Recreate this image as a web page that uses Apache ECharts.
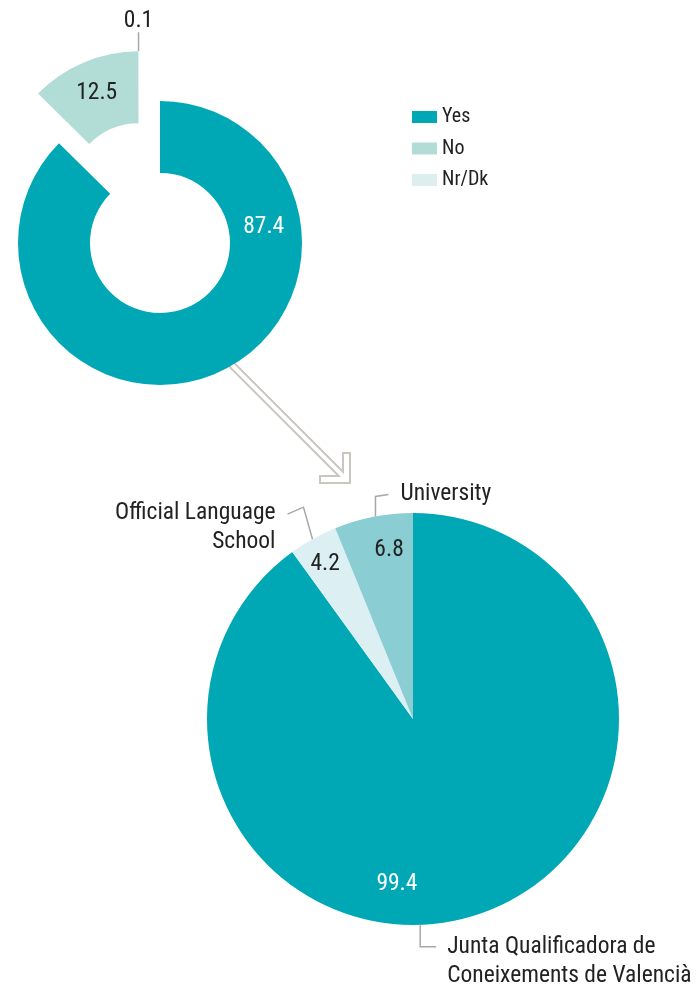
<!DOCTYPE html>
<html>
<head>
<meta charset="utf-8">
<script src="https://cdn.jsdelivr.net/npm/echarts@6/dist/echarts.min.js"></script>
<style>
html,body{margin:0;padding:0;background:#fff;}
#chart{width:697px;height:994px;}
</style>
</head>
<body>
<div id="chart"></div>
<script>
// ---- data ----
const donutNames = ['Yes', 'No', 'Nr/Dk'];
const donutValues = [87.4, 12.5, 0.1];
const pieNames = ['Junta Qualificadora de\nConeixements de Valencià', 'Official Language\nSchool', 'University'];
const pieValues = [99.4, 4.2, 6.8];

// ---- styles / layout ----
const FONT = 'Roboto';
const FSTYLE = 'condensed';
const FS = 23.5;
const TXT = '#222';
const donutColors = ['#00A8B5', '#B2DDD6', '#DCEEED'];
const pieColors = ['#00A8B5', '#DCEFF2', '#8ACED4'];
const LINE = {color: '#A8A8A8', width: 1.5};
const C1 = [160, 243], R1 = [70, 142];
const C2 = [413, 719], R2 = 206;
const EXPLODE = 54;
const rad = d => d * Math.PI / 180;
const polar = (c, r, a) => [c[0] + r * Math.sin(rad(a)), c[1] - r * Math.cos(rad(a))];

const total1 = donutValues.reduce((a, b) => a + b, 0);
const yesAngle = donutValues[0] / total1 * 360;
const noBis = yesAngle + donutValues[1] / total1 * 180;
const C1b = polar(C1, EXPLODE, noBis);

const chart = echarts.init(document.getElementById('chart'), null, {renderer: 'canvas'});

// hollow arrow pointing down-right
function arrowPoints() {
  const tip = [350, 483], start = 215, w = 6, t = 7, La = 30, th = rad(45);
  const a = La / Math.SQRT2;
  const k = -t * Math.SQRT2 - w / 2;
  const local = [
    [0, 0], [-a, -a], [-a - t / Math.SQRT2, -a + t / Math.SQRT2], [k, -w / 2],
    [-start, -w / 2], [-start, w / 2], [k, w / 2],
    [-a - t / Math.SQRT2, a - t / Math.SQRT2], [-a, a]
  ];
  return local.map(([x, y]) => [tip[0] + x * Math.cos(th) - y * Math.sin(th), tip[1] + x * Math.sin(th) + y * Math.cos(th)]);
}

const outerSpec = [
  {angle: 178, seg: [[0, 22], [16, 0]], dx: 11, dy: 15, align: 'left'},
  {angle: -29.2, seg: [[-9, -32], [-16, 7]], dx: -12, dy: 13, align: 'right'},
  {angle: -10.5, seg: [[0, -20], [13, -2]], dx: 12, dy: 0, align: 'left'}
];
const innerSpec = [
  {angle: 185.6, r: 165},
  {angle: -29.4, r: 179},
  {angle: -8.0, r: 172}
];

const txt = (extra) => Object.assign({fontFamily: FONT, fontStyle: FSTYLE, fontSize: FS}, extra);

const option = {
  animation: false,
  textStyle: {fontFamily: FONT, fontStyle: FSTYLE},
  legend: {
    orient: 'vertical', left: 412, top: 107, padding: 0, icon: 'rect', itemWidth: 25, itemHeight: 12,
    itemGap: 11.5, data: donutNames, selectedMode: false,
    textStyle: {fontFamily: FONT, fontStyle: FSTYLE, fontSize: 20, color: TXT}
  },
  graphic: [
    {type: 'polygon', z: 0, shape: {points: arrowPoints()}, style: {fill: '#fff', stroke: '#C9C7BF', lineWidth: 2}}
  ],
  series: [
    {
      type: 'pie', center: C1, radius: R1, startAngle: 90, clockwise: true, z: 3,
      avoidLabelOverlap: false, silent: true,
      data: [
        {name: donutNames[0], value: donutValues[0], itemStyle: {color: donutColors[0]}},
        {name: '_rest', value: donutValues[1] + donutValues[2], itemStyle: {color: 'rgba(0,0,0,0)'}, label: {show: false}}
      ],
      label: txt({show: true, position: 'inside', formatter: '{c}', color: '#fff'}),
      labelLine: {show: false},
      labelLayout: p => {
        if (p.dataIndex !== 0) return {};
        const q = polar(C1, (R1[0] + R1[1]) / 2, 81);
        return {x: q[0] - 1, y: q[1] + 1, align: 'center', verticalAlign: 'middle'};
      }
    },
    {
      type: 'pie', center: C1b, radius: R1, startAngle: 90, clockwise: true, z: 3,
      avoidLabelOverlap: false, silent: true,
      data: [
        {name: '_rest2', value: donutValues[0], itemStyle: {color: 'rgba(0,0,0,0)'}, label: {show: false}, labelLine: {show: false}},
        {name: donutNames[1], value: donutValues[1], itemStyle: {color: donutColors[1]},
          label: {position: 'inside', color: TXT}, labelLine: {show: false}},
        {name: donutNames[2], value: donutValues[2], itemStyle: {color: donutColors[2]},
          label: {position: 'outside', color: TXT}, labelLine: {show: true, lineStyle: LINE}}
      ],
      label: txt({show: true, formatter: '{c}'}),
      labelLayout: p => {
        if (p.dataIndex !== 2) return {};
        const q = polar(C1b, R1[1], 359.8);
        return {x: q[0], y: q[1] - 30, align: 'center', verticalAlign: 'middle',
          labelLinePoints: [[q[0], q[1]], [q[0], q[1] - 19], [q[0], q[1] - 19]]};
      }
    },
    {
      type: 'pie', center: C2, radius: R2, startAngle: 90, clockwise: true, z: 3,
      avoidLabelOverlap: false, silent: true,
      data: pieNames.map((n, i) => ({name: n, value: pieValues[i], itemStyle: {color: pieColors[i]},
        label: {color: i === 0 ? '#fff' : TXT}})),
      label: txt({show: true, position: 'inside', formatter: '{c}'}),
      labelLine: {show: false},
      labelLayout: p => {
        const s = innerSpec[p.dataIndex];
        const q = polar(C2, s.r, s.angle);
        return {x: q[0], y: q[1] + 1, align: 'center', verticalAlign: 'middle'};
      }
    },
    {
      type: 'pie', center: C2, radius: R2, startAngle: 90, clockwise: true, z: 4,
      avoidLabelOverlap: false, silent: true,
      data: pieNames.map((n, i) => ({name: n, value: pieValues[i], itemStyle: {color: 'rgba(0,0,0,0)'}})),
      label: txt({show: true, position: 'outside', formatter: '{b}', color: TXT, lineHeight: 29}),
      labelLine: {show: true, lineStyle: LINE},
      labelLayout: p => {
        const s = outerSpec[p.dataIndex];
        const p0 = polar(C2, R2, s.angle);
        const p1 = [p0[0] + s.seg[0][0], p0[1] + s.seg[0][1]];
        const p2 = [p1[0] + s.seg[1][0], p1[1] + s.seg[1][1]];
        return {x: p2[0] + s.dx, y: p2[1] + s.dy, align: s.align, verticalAlign: 'middle',
          labelLinePoints: [p0, p1, p2]};
      }
    }
  ]
};
chart.setOption(option);
</script>
</body>
</html>
